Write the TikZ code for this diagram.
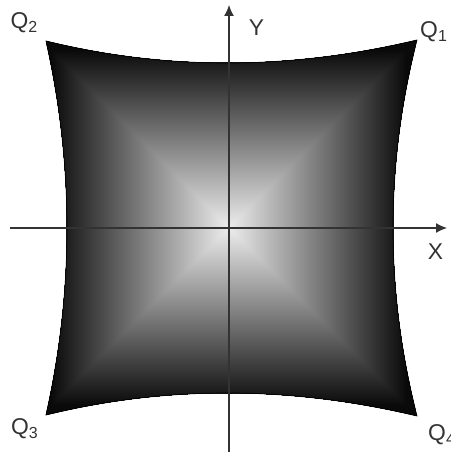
\documentclass[tikz,border=0pt]{standalone}
\usepackage{fontspec}
\setmainfont{Liberation Sans}
\usetikzlibrary{positioning, arrows.meta}

\newcommand\cushionpath{(q2) .. controls (-62.67,157.33) and (61,157.67) .. (q1)
    .. controls (156,62.67) and (156,-62.67) .. (q4)
    .. controls (61,-157.67) and (-62.67,-157.33) .. (q3)
    .. controls (-155,-62.33) and (-155,62.33) .. (q2) -- cycle}

\begin{document}
\begin{tikzpicture}[
    x=0.02cm,
    y=0.02cm,
    axis/.style={
        draw=black!80,
        line width=0.7pt,
        -{Latex[length=2.2mm, width=2mm]}
    },
    tag/.style={
        font=\fontsize{13}{15}\selectfont,
        text=black!80,
        inner sep=0pt
    }
]

\useasboundingbox (-229,-224) rectangle (221,228);

% corners of the cushion
\coordinate (q1) at (188,188);
\coordinate (q2) at (-183,187);
\coordinate (q3) at (-183,-187);
\coordinate (q4) at (188,-188);

% shaded cushion
\begin{scope}
    \clip \cushionpath;
    \foreach \r [evaluate=\r as \shadelevel using {min(96,7+0.5*\r)}] in {190,189,...,0}
        \fill[black!\shadelevel] (-\r,-\r) rectangle (\r,\r);
\end{scope}
\draw[black, line width=0.4pt] \cushionpath;

% axes
\coordinate (xstart) at (-219,0);
\coordinate (xend) at (218,0);
\coordinate (ystart) at (0,-224);
\coordinate (yend) at (0,223);
\draw[axis] (xstart) -- (xend);
\draw[axis] (ystart) -- (yend);

\node[tag] (xlab) at (206.5,-23.5) {X};
\node[tag] (ylab) at (27.5,200.5) {Y};

\node[tag] (q1lab) at (205,196) {Q\textsubscript{1}};
\node[tag] (q2lab) at (-204.5,205) {Q\textsubscript{2}};
\node[tag] (q3lab) at (-204,-200.5) {Q\textsubscript{3}};
\node[tag] (q4lab) at (213,-207) {Q\textsubscript{4}};

\end{tikzpicture}
\end{document}
